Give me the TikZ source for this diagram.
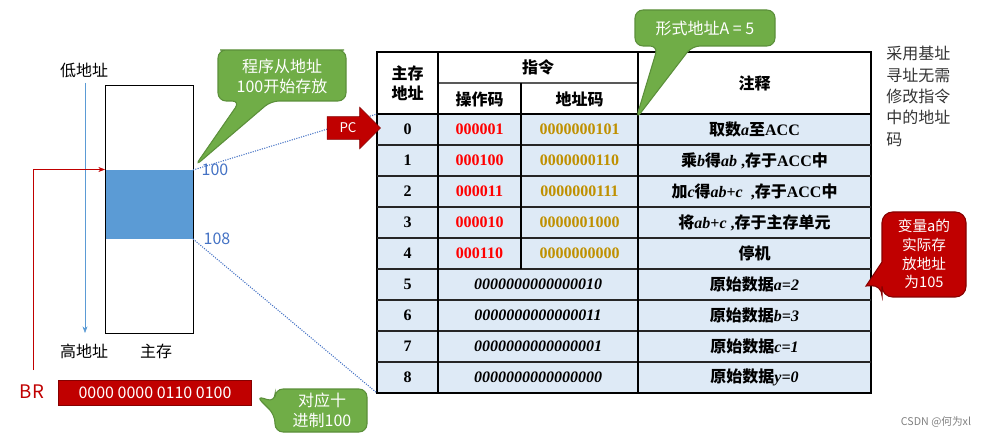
\documentclass[tikz,border=0pt]{standalone}
\usepackage{fontspec}
\setmainfont{Liberation Serif}
\newfontfamily\zh{Noto Sans CJK SC}
\usetikzlibrary{arrows.meta,shapes.arrows}
\definecolor{grn}{HTML}{70AD47}
\definecolor{grnd}{HTML}{5B8F3A}
\definecolor{dred}{HTML}{C00000}
\definecolor{blu}{HTML}{5B9BD5}
\definecolor{bluetxt}{HTML}{4472C4}
\definecolor{gold}{HTML}{BF9000}
\definecolor{rowbg}{HTML}{DEEAF6}
\tikzset{
  cell/.style={font=\bfseries\fontsize{12}{14}\selectfont, inner sep=0pt},
  note/.style={font=\zh\fontsize{12}{15}\selectfont, align=left, inner sep=0pt},
  callout/.style={fill=grn, draw=grnd, line width=0.8pt, rounded corners=6pt}
}
\begin{document}
\begin{tikzpicture}[x=0.75pt,y=-0.75pt]
  \useasboundingbox (0,0) rectangle (996,438);
  % memory
  \fill[blu] (105,170) rectangle (193,239);
  \node[draw, minimum width=66pt, minimum height=186pt, inner sep=0pt] (mem) at (149,209) {};
  \node[note] (low) at (84,70) {低地址};
  \node[note] (high) at (84,351) {高地址};
  \node[note] (mainmem) at (156,351) {主存};
  \coordinate (lowend) at (85,83);
  \coordinate (highend) at (85,333);
  \draw[blu, -{Stealth[length=5pt]}] (lowend) -- (highend);
  \node[note, text=bluetxt] (a100) at (215,170) {100};
  \node[note, text=bluetxt] (a108) at (217,239) {108};
  % BR
  \node[font=\zh\fontsize{14}{16}\selectfont, text=dred] (br) at (32,392) {BR};
  \node[fill=dred, draw=dred!70!black, text=white, font=\zh\fontsize{12}{14}\selectfont,
    minimum width=145pt, minimum height=19pt, inner sep=0pt] (brval) at (155,393) {0000 0000 0110 0100};
  \coordinate (brtop) at (33,370);
  \coordinate (start) at (105,169.5);
  \draw[dred, -{Stealth[length=5pt]}] (brtop) |- (start);
  % table
  \foreach \i in {0,...,8} {
    \fill[rowbg] (377,{114+31*\i}) rectangle (871,{145+31*\i});
  }
  \draw[line width=1.4pt] (377,52) rectangle (871,393);
  \draw[thick] (377,114) -- (871,114);
  \draw[gray!70!black, thick] (438,83) -- (638,83);
  \foreach \i in {1,...,8} \draw[gray!30!black, thick] (377,{114+31*\i}) -- (871,{114+31*\i});
  \draw[thick] (438,52) -- (438,393);
  \draw[thick] (638,52) -- (638,393);
  \draw[thick] (521,83) -- (521,269);
  \node[cell, font=\zh\bfseries\fontsize{12}{15}\selectfont, align=center] (hAddr) at (407.5,83) {主存\\地址};
  \node[cell, font=\zh\bfseries\fontsize{12}{15}\selectfont] (hIns) at (538,67) {指令};
  \node[cell, font=\zh\bfseries\fontsize{12}{15}\selectfont] (hOp) at (479.5,99) {操作码};
  \node[cell, font=\zh\bfseries\fontsize{12}{15}\selectfont] (hAc) at (579.5,99) {地址码};
  \node[cell, font=\zh\bfseries\fontsize{12}{15}\selectfont] (hNote) at (754.5,83) {注释};
  \foreach \i in {0,...,8} \node[cell] (r\i) at (407.5,{129.5+31*\i}) {\i};
  \foreach \i/\op/\ad in {0/000001/0000000101, 1/000100/0000000110, 2/000011/0000000111,
      3/000010/0000001000, 4/000110/0000000000} {
    \node[cell, text=red] (op\i) at (479.5,{129.5+31*\i}) {\op};
    \node[cell, text=gold] (ad\i) at (579.5,{129.5+31*\i}) {\ad};
  }
  \foreach \i/\d in {5/0000000000000010, 6/0000000000000011, 7/0000000000000001, 8/0000000000000000}
    \node[cell, font=\bfseries\itshape\fontsize{12}{14}\selectfont] (d\i) at (538,{129.5+31*\i}) {\d};
  \node[cell] (n0) at (754.5,129.5) {{\zh 取数}\textit{a}{\zh 至}ACC};
  \node[cell] (n1) at (754.5,160.5) {{\zh 乘}\textit{b}{\zh 得}\textit{ab} ,{\zh 存于}ACC{\zh 中}};
  \node[cell] (n2) at (754.5,191.5) {{\zh 加}\textit{c}{\zh 得}\textit{ab}+\textit{c} \ ,{\zh 存于}ACC{\zh 中}};
  \node[cell] (n3) at (754.5,222.5) {{\zh 将}\textit{ab}+\textit{c} ,{\zh 存于主存单元}};
  \node[cell] (n4) at (754.5,253.5) {{\zh 停机}};
  \node[cell] (n5) at (754.5,284.5) {{\zh 原始数据}\textit{a=2}};
  \node[cell] (n6) at (754.5,315.5) {{\zh 原始数据}\textit{b=3}};
  \node[cell] (n7) at (754.5,346.5) {{\zh 原始数据}\textit{c=1}};
  \node[cell] (n8) at (754.5,377.5) {{\zh 原始数据}\textit{y=0}};
  % dotted projection
  \draw[bluetxt, densely dotted, thick] (193,170) -- (377,114);
  \draw[bluetxt, densely dotted, thick] (193,239) -- (377,393);
  % PC arrow
  \node[single arrow, fill=dred, draw=dred!70!black, minimum height=40pt, minimum width=31pt,
    single arrow head extend=4pt, inner sep=1pt, font=\zh\fontsize{10}{12}\selectfont, text=white] (pc) at (348,128) {PC\hspace{6pt}};
  % callouts
  \draw[callout] (228,50) -- (336,50) -- (346,50) -- (346,101) -- (271,101) -- (195,166) -- (240,101) -- (218,101) -- (218,50) -- cycle;
  \node[font=\zh\fontsize{12}{15}\selectfont, text=white, align=center] (c1) at (282,76) {程序从地址\\100开始存放};
  \draw[callout] (635,10) -- (775,10) -- (775,46) -- (692,46) -- (636,119) -- (658,46) -- (635,46) -- cycle;
  \node[font=\zh\fontsize{12}{15}\selectfont, text=white] (c2) at (705,28) {形式地址A = 5};
  \draw[callout] (275,389) -- (367,389) -- (367,432) -- (275,432) -- (275,415) -- (256,396) -- (275,402) -- cycle;
  \node[font=\zh\fontsize{12}{15}\selectfont, text=white, align=center] (c3) at (322,410) {对应十\\进制100};
  \draw[fill=dred, draw=dred!70!black, line width=0.8pt, rounded corners=8pt]
    (882,212) -- (966,212) -- (966,297) -- (882,297) -- (882,285) [sharp corners] -- (866,286) -- (882,262) [rounded corners=8pt] -- cycle;
  \node[font=\zh\fontsize{11}{14}\selectfont, text=white, align=center] (c4) at (924,254) {变量a的\\实际存\\放地址\\为105};
  % side note
  \node[note, text=black!80, font=\zh\fontsize{12}{16}\selectfont, anchor=north west] (side) at (886,46) {采用基址\\寻址无需\\修改指令\\中的地址\\码};
  \node[font=\zh\fontsize{8}{10}\selectfont, text=gray] (wm) at (936,422) {CSDN @何为xl};
\end{tikzpicture}
\end{document}
